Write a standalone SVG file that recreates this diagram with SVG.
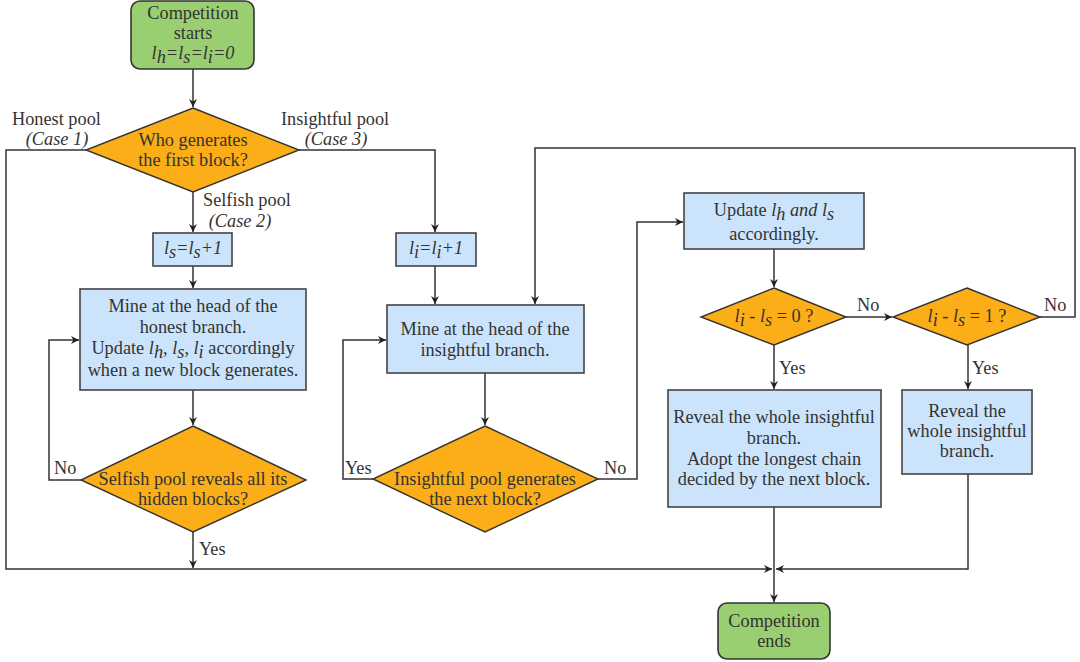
<svg xmlns="http://www.w3.org/2000/svg" width="1080" height="662" viewBox="0 0 1080 662">
<defs>
<marker id="ah" viewBox="0 0 10 10" refX="10" refY="5" markerWidth="8" markerHeight="8" markerUnits="userSpaceOnUse" orient="auto"><path d="M0,0 L10,5 L0,10 L3,5 Z" fill="#222"/></marker>
<style>
.t{font-family:"Liberation Serif","DejaVu Serif",serif;font-size:18.3px;fill:#333;text-anchor:middle}
.l{font-family:"Liberation Serif","DejaVu Serif",serif;font-size:18.3px;fill:#333}
.i{font-style:italic}
.box{fill:#CBE4FB;stroke:#444;stroke-width:1.6}
.term{fill:#99CF70;stroke:#333;stroke-width:1.6}
.dia{fill:#FBAE17;stroke:#333;stroke-width:1.4}
.c{fill:none;stroke:#333;stroke-width:1.5}
</style>
</defs>
<rect width="1080" height="662" fill="#fff"/>

<g id="connectors">
<path class="c" d="M193,69 V107" marker-end="url(#ah)"/>
<path class="c" d="M86,150 H6 V569 H772" marker-end="url(#ah)"/>
<path class="c" d="M299,150 H435 V232" marker-end="url(#ah)"/>
<path class="c" d="M193,192 V232" marker-end="url(#ah)"/>
<path class="c" d="M193,266 V288" marker-end="url(#ah)"/>
<path class="c" d="M193,390 V425" marker-end="url(#ah)"/>
<path class="c" d="M81,480 H49 V340 H79" marker-end="url(#ah)"/>
<path class="c" d="M193,532 V568" marker-end="url(#ah)"/>
<path class="c" d="M435,266 V304" marker-end="url(#ah)"/>
<path class="c" d="M485,373 V425" marker-end="url(#ah)"/>
<path class="c" d="M373,479 H343 V340 H386" marker-end="url(#ah)"/>
<path class="c" d="M598,479 H637 V222 H683" marker-end="url(#ah)"/>
<path class="c" d="M774,249 V287" marker-end="url(#ah)"/>
<path class="c" d="M846,317 H892" marker-end="url(#ah)"/>
<path class="c" d="M1040,317 H1075 V148 H535 V304" marker-end="url(#ah)"/>
<path class="c" d="M774,345 V389" marker-end="url(#ah)"/>
<path class="c" d="M968,345 V389" marker-end="url(#ah)"/>
<path class="c" d="M774,507 V602" marker-end="url(#ah)"/>
<path class="c" d="M968,474 V569 H776" marker-end="url(#ah)"/>
<text class="l" x="12" y="125">Honest pool</text>
<text class="t i" x="57" y="145">(Case 1)</text>
<text class="l" x="281" y="125">Insightful pool</text>
<text class="t i" x="336" y="145">(Case 3)</text>
<text class="l" x="203" y="206">Selfish pool</text>
<text class="t i" x="240" y="227">(Case 2)</text>
<text class="l" x="54" y="474">No</text>
<text class="l" x="199" y="555">Yes</text>
<text class="l" x="345" y="474">Yes</text>
<text class="l" x="604" y="474">No</text>
<text class="l" x="857" y="311">No</text>
<text class="l" x="1044" y="311">No</text>
<text class="l" x="779" y="374">Yes</text>
<text class="l" x="972" y="374">Yes</text>
</g>

<g id="start">
<rect class="term" x="131" y="1" width="123" height="68" rx="9"/>
<text class="t" x="193" y="19">Competition</text>
<text class="t" x="193" y="39">starts</text>
<text class="t i" x="193" y="59">l<tspan dy="4">h</tspan><tspan dy="-4">=l</tspan><tspan dy="4">s</tspan><tspan dy="-4">=l</tspan><tspan dy="4">i</tspan><tspan dy="-4">=0</tspan></text>
</g>

<g id="who">
<polygon class="dia" points="193,108 299,150 193,192 86,150"/>
<text class="t" x="193" y="146">Who generates</text>
<text class="t" x="193" y="166">the first block?</text>
</g>

<g id="ls">
<rect class="box" x="153" y="233" width="79" height="33"/>
<text class="t i" x="193" y="254">l<tspan dy="4">s</tspan><tspan dy="-4">=l</tspan><tspan dy="4">s</tspan><tspan dy="-4">+1</tspan></text>
</g>

<g id="li">
<rect class="box" x="396" y="233" width="80" height="33"/>
<text class="t i" x="436" y="254">l<tspan dy="4">i</tspan><tspan dy="-4">=l</tspan><tspan dy="4">i</tspan><tspan dy="-4">+1</tspan></text>
</g>

<g id="mineHonest">
<rect class="box" x="80" y="289" width="226" height="101"/>
<text class="t" x="193" y="312">Mine at the head of the</text>
<text class="t" x="193" y="333">honest branch.</text>
<text class="t" x="193" y="354">Update <tspan class="i">l</tspan><tspan class="i" dy="4">h</tspan><tspan dy="-4">, </tspan><tspan class="i">l</tspan><tspan class="i" dy="4">s</tspan><tspan dy="-4">, </tspan><tspan class="i">l</tspan><tspan class="i" dy="4">i</tspan><tspan dy="-4"> accordingly</tspan></text>
<text class="t" x="193" y="376">when a new block generates.</text>
</g>

<g id="selfishReveal">
<polygon class="dia" points="193,426 306,480 193,532 81,480"/>
<text class="t" x="193" y="485">Selfish pool reveals all its</text>
<text class="t" x="193" y="505">hidden blocks?</text>
</g>

<g id="mineInsightful">
<rect class="box" x="387" y="305" width="197" height="68"/>
<text class="t" x="485" y="335">Mine at the head of the</text>
<text class="t" x="485" y="356">insightful branch.</text>
</g>

<g id="insightfulNext">
<polygon class="dia" points="485,426 598,479 485,532 373,479"/>
<text class="t" x="485" y="485">Insightful pool generates</text>
<text class="t" x="485" y="505">the next block?</text>
</g>

<g id="update">
<rect class="box" x="684" y="193" width="180" height="56"/>
<text class="t" x="774" y="216">Update <tspan class="i">l</tspan><tspan class="i" dy="4">h</tspan><tspan class="i" dy="-4"> and l</tspan><tspan class="i" dy="4">s</tspan></text>
<text class="t" x="774" y="240">accordingly.</text>
</g>

<g id="diff0">
<polygon class="dia" points="774,288 846,317 774,345 701,317"/>
<text class="t" x="774" y="322"><tspan class="i">l</tspan><tspan class="i" dy="4">i</tspan><tspan dy="-4"> - </tspan><tspan class="i">l</tspan><tspan class="i" dy="4">s</tspan><tspan dy="-4"> = 0 ?</tspan></text>
</g>

<g id="diff1">
<polygon class="dia" points="967,288 1040,317 967,345 893,317"/>
<text class="t" x="967" y="322"><tspan class="i">l</tspan><tspan class="i" dy="4">i</tspan><tspan dy="-4"> - </tspan><tspan class="i">l</tspan><tspan class="i" dy="4">s</tspan><tspan dy="-4"> = 1 ?</tspan></text>
</g>

<g id="revealAdopt">
<rect class="box" x="668" y="390" width="213" height="117"/>
<text class="t" x="774" y="423">Reveal the whole insightful</text>
<text class="t" x="774" y="444">branch.</text>
<text class="t" x="774" y="465">Adopt the longest chain</text>
<text class="t" x="774" y="485">decided by the next block.</text>
</g>

<g id="reveal">
<rect class="box" x="902" y="390" width="130" height="84"/>
<text class="t" x="967" y="417">Reveal the</text>
<text class="t" x="967" y="437">whole insightful</text>
<text class="t" x="967" y="457">branch.</text>
</g>

<g id="end">
<rect class="term" x="718" y="603" width="112" height="56" rx="9"/>
<text class="t" x="774" y="627">Competition</text>
<text class="t" x="774" y="647">ends</text>
</g>
</svg>
